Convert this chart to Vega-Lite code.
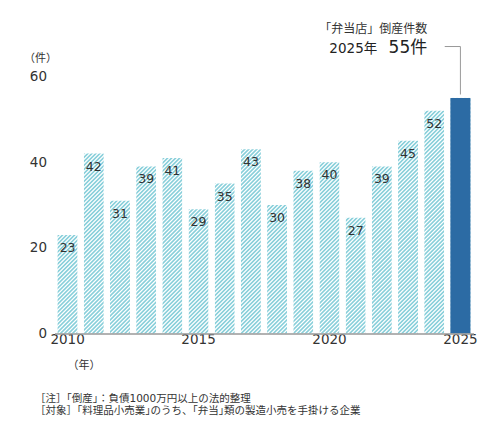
{
  "$schema": "https://vega.github.io/schema/vega-lite/v6.json",
  "width": 419,
  "height": 257,
  "autosize": "none",
  "padding": {"left": 54.5, "top": 76.5, "right": 26.5, "bottom": 96.5},
  "background": "white",
  "data": {
    "values": [
      {"year": "2010", "count": 23},
      {"year": "2011", "count": 42},
      {"year": "2012", "count": 31},
      {"year": "2013", "count": 39},
      {"year": "2014", "count": 41},
      {"year": "2015", "count": 29},
      {"year": "2016", "count": 35},
      {"year": "2017", "count": 43},
      {"year": "2018", "count": 30},
      {"year": "2019", "count": 38},
      {"year": "2020", "count": 40},
      {"year": "2021", "count": 27},
      {"year": "2022", "count": 39},
      {"year": "2023", "count": 45},
      {"year": "2024", "count": 52},
      {"year": "2025", "count": 55}
    ]
  },
  "layer": [
    {
      "data": {"values": [{}]},
      "mark": {"type": "rule", "clip": true, "stroke": "#88cfda", "strokeWidth": 900, "strokeDash": [1.6, 1.24], "strokeCap": "butt"},
      "encoding": {
        "x": {"datum": "2010", "type": "ordinal"},
        "x2": {"datum": "2025"},
        "y": {"datum": 76, "type": "quantitative"},
        "y2": {"datum": -15.71}
      }
    },
    {
      "mark": {"type": "bar", "fill": "transparent", "stroke": "white", "strokeWidth": 6.19, "width": 26.19},
      "encoding": {
        "x": {
          "field": "year",
          "type": "ordinal",
          "scale": {"type": "band", "paddingInner": 0.236, "paddingOuter": 0.118},
          "axis": {
            "values": ["2010", "2015", "2020", "2025"],
            "labelAngle": 0,
            "labelAlign": "center",
            "labelFontSize": 13.5,
            "labelColor": "#333",
            "labelPadding": 6,
            "ticks": false,
            "grid": false,
            "domainColor": "#999",
            "domainWidth": 1.5,
            "title": "（年）",
            "titleX": 29,
            "titleY": 32,
            "titleAngle": 0,
            "titleAlign": "center",
            "titleBaseline": "middle",
            "titleFontSize": 11,
            "titleFontWeight": "normal",
            "titleColor": "#333",
            "zindex": 1
          }
        },
        "y": {"datum": 60, "type": "quantitative"},
        "y2": {"datum": -0.85}
      }
    },
    {
      "mark": {"type": "bar", "fill": "white", "width": 26.2},
      "encoding": {
        "x": {"field": "year", "type": "ordinal"},
        "y": {
          "field": "count",
          "type": "quantitative",
          "scale": {"domain": [0, 60], "nice": false},
          "axis": {
            "values": [0, 20, 40, 60],
            "grid": false,
            "domain": false,
            "ticks": false,
            "labelFontSize": 13.5,
            "labelColor": "#333",
            "labelPadding": 8,
            "title": "（件）",
            "titleAngle": 0,
            "titleX": -14.5,
            "titleY": -18,
            "titleAlign": "center",
            "titleBaseline": "middle",
            "titleFontSize": 11,
            "titleFontWeight": "normal",
            "titleColor": "#333",
            "zindex": 1
          }
        },
        "y2": {"datum": 60}
      }
    },
    {
      "transform": [{"filter": "datum.year == '2025'"}],
      "mark": {"type": "bar", "fill": "#2c6ba4", "width": 20},
      "encoding": {
        "x": {"field": "year", "type": "ordinal"},
        "y": {"field": "count", "type": "quantitative"}
      }
    },
    {
      "transform": [{"filter": "datum.year != '2025'"}],
      "mark": {"type": "text", "baseline": "top", "dy": 7, "fontSize": 12.5, "color": "#333"},
      "encoding": {
        "x": {"field": "year", "type": "ordinal"},
        "y": {"field": "count", "type": "quantitative"},
        "text": {"field": "count"}
      }
    },
    {
      "data": {"values": [{}]},
      "mark": {"type": "rule", "stroke": "#999", "strokeWidth": 1, "xOffset": 10.5},
      "encoding": {
        "x": {"datum": "2024", "type": "ordinal"},
        "x2": {"datum": "2025"},
        "y": {"datum": 67, "type": "quantitative"}
      }
    },
    {
      "data": {"values": [{}]},
      "mark": {"type": "rule", "stroke": "#999", "strokeWidth": 1},
      "encoding": {
        "x": {"datum": "2025", "type": "ordinal"},
        "y": {"datum": 67, "type": "quantitative"},
        "y2": {"datum": 55.8}
      }
    },
    {
      "data": {"values": [{}]},
      "mark": {"type": "text", "text": "「弁当店」倒産件数", "align": "right", "baseline": "middle", "dx": -7, "fontSize": 12, "color": "#333"},
      "encoding": {
        "x": {"datum": "2024", "type": "ordinal"},
        "y": {"datum": 71.1, "type": "quantitative"}
      }
    },
    {
      "data": {"values": [{}]},
      "mark": {"type": "text", "text": "55件", "align": "right", "baseline": "alphabetic", "dx": -7, "fontSize": 17, "color": "#222"},
      "encoding": {
        "x": {"datum": "2024", "type": "ordinal"},
        "y": {"datum": 65.4, "type": "quantitative"}
      }
    },
    {
      "data": {"values": [{}]},
      "mark": {"type": "text", "text": "2025年", "align": "right", "baseline": "alphabetic", "dx": -57, "fontSize": 13.5, "color": "#222"},
      "encoding": {
        "x": {"datum": "2024", "type": "ordinal"},
        "y": {"datum": 65.4, "type": "quantitative"}
      }
    },
    {
      "data": {"values": [{}]},
      "mark": {
        "type": "text",
        "text": ["［注］「倒産」：負債1000万円以上の法的整理", "［対象］「料理品小売業｣のうち、｢弁当｣類の製造小売を手掛ける企業"],
        "align": "left",
        "baseline": "top",
        "dx": -32.6,
        "fontSize": 10.5,
        "lineHeight": 12.5,
        "color": "#333"
      },
      "encoding": {
        "x": {"datum": "2010", "type": "ordinal"},
        "y": {"datum": -14.1, "type": "quantitative"}
      }
    }
  ],
  "config": {
    "font": "DejaVu Sans, Noto Sans CJK JP",
    "view": {"stroke": null}
  }
}
